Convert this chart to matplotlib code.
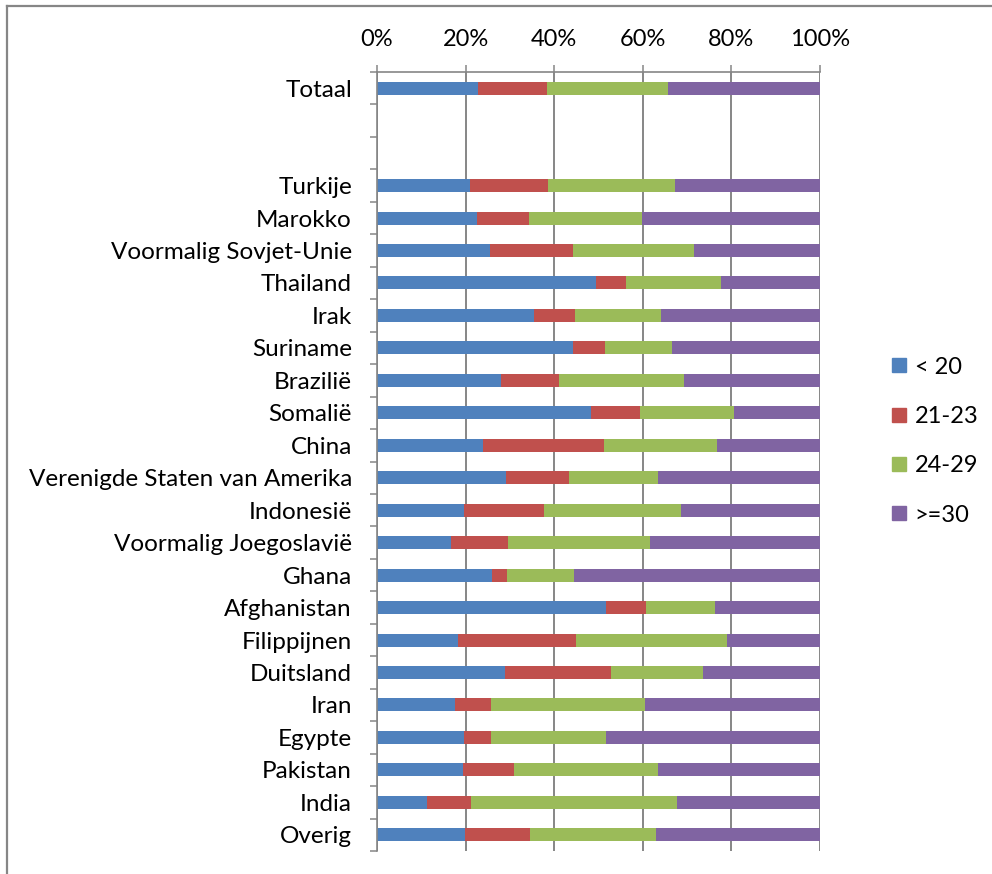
import numpy as np
import matplotlib.pyplot as plt
from matplotlib.lines import Line2D

plt.rcParams['font.family'] = ['Lato', 'DejaVu Sans']

landen = ['Totaal', '', '', 'Turkije', 'Marokko', 'Voormalig Sovjet-Unie', 'Thailand',
          'Irak', 'Suriname', 'Brazilië', 'Somalië', 'China',
          'Verenigde Staten van Amerika', 'Indonesië', 'Voormalig Joegoslavië',
          'Ghana', 'Afghanistan', 'Filippijnen', 'Duitsland', 'Iran', 'Egypte',
          'Pakistan', 'India', 'Overig']

# aandelen per leeftijdsgroep (%), lege rijen = 0
onder20 = [22.8, 0, 0, 20.9, 22.6, 25.4, 49.5, 35.5, 44.3, 28.0, 48.4, 24.0,
           29.1, 19.7, 16.8, 26.0, 51.7, 18.2, 29.0, 17.6, 19.6, 19.4, 11.3, 19.9]
g21_23 = [15.5, 0, 0, 17.7, 11.7, 18.8, 6.6, 9.2, 7.1, 13.0, 10.9, 27.2,
          14.2, 18.0, 12.7, 3.3, 9.0, 26.8, 23.8, 8.2, 6.2, 11.6, 9.9, 14.6]
g24_29 = [27.4, 0, 0, 28.7, 25.5, 27.3, 21.5, 19.5, 15.2, 28.2, 21.2, 25.6,
          20.2, 31.0, 32.2, 15.1, 15.7, 34.1, 20.9, 34.6, 26.0, 32.5, 46.5, 28.4]
boven30 = [34.3, 0, 0, 32.7, 40.2, 28.5, 22.4, 35.8, 33.4, 30.8, 19.5, 23.2,
           36.5, 31.3, 38.3, 55.6, 23.6, 20.9, 26.3, 39.6, 48.2, 36.5, 32.3, 37.1]
groepen = ['< 20', '21-23', '24-29', '>=30']
kleuren = ['#4F81BD', '#C0504D', '#9BBB59', '#8064A2']

fig = plt.figure(figsize=(9.92, 8.74), dpi=100)
ax = fig.add_axes([377/992, 1-851/874, 443/992, (851-72)/874])

y = np.arange(len(landen))
links = np.zeros(len(landen))
for waarden, kleur, naam in zip([onder20, g21_23, g24_29, boven30], kleuren, groepen):
    ax.barh(y, waarden, left=links, height=0.4, color=kleur, label=naam,
            linewidth=0, zorder=2)
    links += np.array(waarden)

grijs = '#868686'
ax.set_xlim(0, 100)
ax.set_ylim(len(landen)-0.5, -0.5)
ax.set_xticks(np.arange(0, 101, 20))
ax.set_xticklabels([f'{v}%' for v in range(0, 101, 20)])
ax.xaxis.tick_top()
ax.grid(axis='x', color=grijs, linewidth=1.4, zorder=0)
ax.tick_params(axis='x', length=5, width=1.1, color=grijs, labelsize=17, pad=11)

ax.set_yticks(y)
ax.set_yticklabels(landen)
ax.set_yticks(np.arange(-0.5, len(landen), 1), minor=True)
ax.tick_params(axis='y', which='major', length=0, labelsize=17.5, pad=18)
ax.tick_params(axis='y', which='minor', length=5, width=1.1, color=grijs)

for s in ['right', 'bottom']:
    ax.spines[s].set_visible(False)
for s in ['top', 'left']:
    ax.spines[s].set_color(grijs)
    ax.spines[s].set_linewidth(1.2)
    ax.spines[s].set_zorder(3)

handles = [Line2D([], [], marker='s', linestyle='none', markersize=10.5,
                  markerfacecolor=k, markeredgecolor=k) for k in kleuren]
fig.legend(handles, groepen, loc='center left', bbox_to_anchor=(878/992, 1-441/874),
           frameon=False, fontsize=17, labelspacing=1.2, handlelength=0.8,
           handletextpad=0.25, borderpad=0)

# kaderlijnen van het diagramgebied
fig.add_artist(Line2D([7/992, 7/992], [0, 1-6/874], color=grijs, linewidth=1.6))
fig.add_artist(Line2D([7/992, 1], [1-6/874, 1-6/874], color=grijs, linewidth=1.6))

fig.savefig('out.png', dpi=100, facecolor='white')
